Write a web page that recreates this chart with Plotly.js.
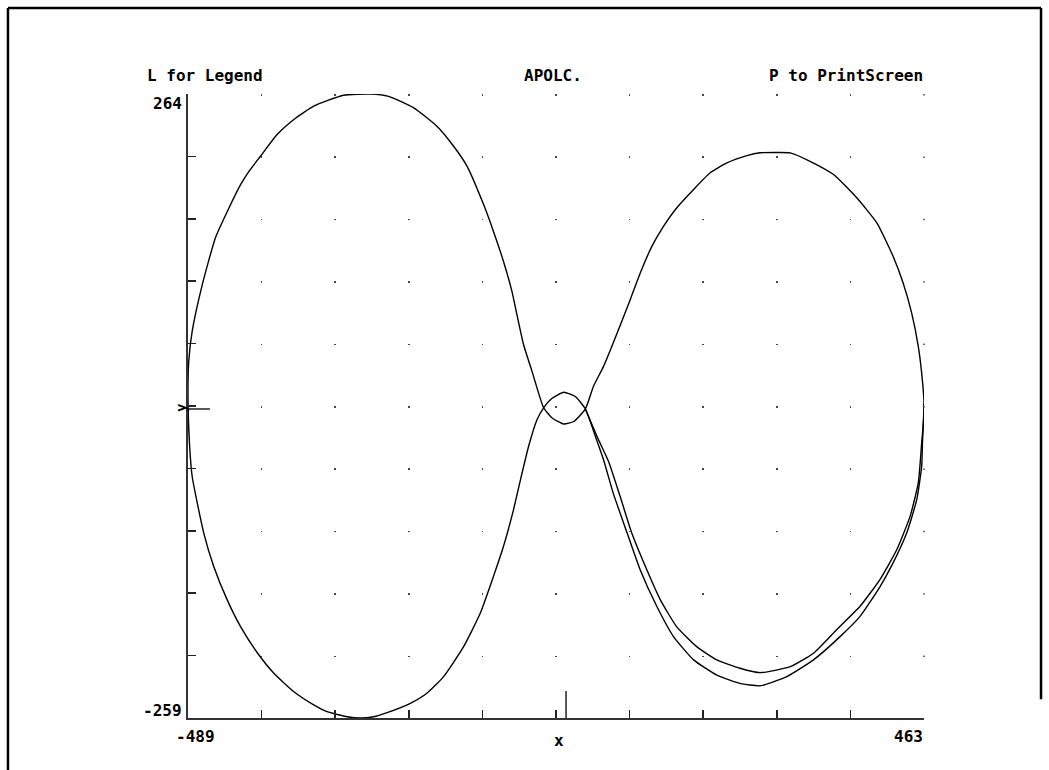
<!DOCTYPE html>
<html>
<head>
<meta charset="utf-8">
<script src="https://cdn.plot.ly/plotly-3.0.1.min.js"></script>
<style>html,body{margin:0;padding:0;background:#fff;}#chart{width:1049px;height:770px;}</style>
</head>
<body>
<div id="chart"></div>
<script>
// ---- data (x, y in plot units) ----
// first lap of the orbit (closed path through both loops)
const orbitX = [
  -29, -18, -3, 12, 25,
  38, 48.5, 61, 79, 96, 117.5, 139, 165, 195, 225, 251, 285.5, 320, 354.4, 380, 406, 423, 440.6, 453.6, 460, 461, 463,
  460, 455.6, 447, 436, 423, 402, 376, 346, 315.6, 290, 270, 251, 234, 208, 186.4, 165, 143, 126, 111, 96, 83, 72, 61, 48.5, 35.5, 25,
  10, -3, -18, -29,
  -44, -55, -63.5, -70, -81, -94, -106.6, -128, -145.4, -167, -197, -229.4, -253, -287.6, -326.4, -352, -373.7, -395.3, -410.4, -421, -436, -453.5, -470.6, -483.6, -488, -489,
  -487, -483.6, -468.6, -455.7, -438.3, -421, -397.5, -378, -352, -326.4, -309, -283, -266, -249, -231.5, -201.4, -180, -158.4, -132.5, -111, -94, -81, -68, -59, -48.5, -37.6, -29
];
const orbitY = [
  1, 9, 14, 10.5, 0,
  -23, -42.6, -70.5, -104, -135, -165.6, -190.8, -210.3, -223, -230, -232, -224.3, -210.3, -190.8, -174, -149, -129, -104, -76, -48, -28.6, 5,
  30, 52.5, 80.5, 105.6, 128, 156, 177, 196.5, 207.6, 214.7, 215, 214.7, 212.4, 206.3, 198, 184, 168.5, 153, 136.3, 114, 91.6, 73.4, 55.3, 35.7, 19, 0,
  -10.5, -12.6, -7.6, 1,
  31.5, 54, 79, 98.6, 123.8, 149, 171.3, 203.4, 220.2, 237, 252.4, 262, 264, 263, 253.8, 242.6, 230, 211.8, 199, 188, 168.5, 143.6, 104, 65, 40, 8,
  -30, -56.6, -104, -132, -160, -182.4, -206, -221.5, -237, -248, -253.7, -258, -259, -258, -254.5, -246.7, -238.3, -224.3, -199.2, -171.2, -140.5, -115.3, -84.5, -59.4, -31.4, -9, 1
];
// second lap: the lower right arc that drifts inside the first one
const driftX = [25, 42, 55, 70, 85, 104.6, 122, 143, 169, 195, 225, 251, 290, 320, 350, 380, 406, 427.7, 445, 455.6, 460, 462.5, 463];
const driftY = [0, -25.8, -44, -73.4, -104, -135, -160, -182.4, -199.2, -210.3, -217.3, -221, -216, -204.7, -185, -165.6, -143, -118, -90, -62, -28.6, -9, 5];

// axis extents and labels
const xRange = [-489, 463];
const yRange = [-259, 264];
const xDivisions = 10;
const yDivisions = 10;
const headerTexts = ["L for Legend", "APOLC.", "P to PrintScreen"];
const xLabels = ["-489", "x", "463"];
const yLabels = ["264", "y", "-259"];

// tick positions = equal divisions of the axes
const xTicks = [], yTicks = [];
for (let i = 0; i <= xDivisions; i++) xTicks.push(xRange[0] + (xRange[1] - xRange[0]) * i / xDivisions);
for (let i = 0; i <= yDivisions; i++) yTicks.push(yRange[0] + (yRange[1] - yRange[0]) * i / yDivisions);

const FONT = {family: "DejaVu Sans Mono, Liberation Mono, monospace", size: 16, color: "#000", weight: "bold"};
const plotH = 770 - 94 - 52;
const dotLen = 1.5;
const gap = (plotH / yDivisions) - dotLen;

const lineStyle = {color: "#000", width: 1.4, shape: "spline", smoothing: 0.5};
const data = [
  {x: orbitX, y: orbitY, mode: "lines", line: lineStyle, hoverinfo: "skip"},
  {x: driftX, y: driftY, mode: "lines", line: lineStyle, hoverinfo: "skip"}
];

function ann(text, x, y, xa, ya, extra) {
  return Object.assign({text: text, x: x, y: y, xref: "paper", yref: "paper", xanchor: xa, yanchor: ya,
    showarrow: false, font: FONT, borderpad: 0}, extra || {});
}

const layout = {
  width: 1049, height: 770,
  margin: {l: 188, r: 125, t: 94, b: 52, pad: 0},
  paper_bgcolor: "#fff", plot_bgcolor: "#fff",
  showlegend: false,
  xaxis: {
    range: xRange, showline: true, linecolor: "#333", linewidth: 2,
    tickmode: "array", tickvals: xTicks, ticks: "inside", ticklen: 8, tickwidth: 1.5, tickcolor: "#222",
    showticklabels: false, zeroline: false,
    showgrid: true, gridcolor: "#444", gridwidth: 1.5, griddash: dotLen + "px," + gap + "px"
  },
  yaxis: {
    range: yRange, showline: true, linecolor: "#333", linewidth: 2,
    tickmode: "array", tickvals: yTicks, ticks: "inside", ticklen: 8, tickwidth: 1.5, tickcolor: "#222",
    showticklabels: false, zeroline: false, showgrid: false
  },
  shapes: [
    // outer frame of the screen
    {type: "line", xref: "paper", yref: "paper", x0: -0.2446, x1: 1.159, y0: 1.1378, y1: 1.1378, line: {color: "#000", width: 2.5}},
    {type: "line", xref: "paper", yref: "paper", x0: -0.2446, x1: -0.2446, y0: 1.1378, y1: -0.1, line: {color: "#000", width: 2.5}},
    {type: "line", xref: "paper", yref: "paper", x0: 1.159, x1: 1.159, y0: 1.1378, y1: 0.03, line: {color: "#000", width: 2.5}},
    // zero markers
    {type: "line", xref: "x", x0: 0, x1: 0, yref: "paper", ysizemode: "pixel", yanchor: 0, y0: 0, y1: 27, line: {color: "#222", width: 1.5}},
    {type: "line", yref: "y", y0: 0, y1: 0, xref: "paper", xsizemode: "pixel", xanchor: 0, x0: 0, x1: 22, line: {color: "#222", width: 1.5}},
    // right column of grid dots
    {type: "line", xref: "paper", yref: "paper", x0: 1, x1: 1, y0: 1, y1: 0, line: {color: "#444", width: 1.5, dash: dotLen + "px," + gap + "px"}}
  ],
  annotations: [
    ann(headerTexts[0], -0.0571, 1.0304, "left", "middle"),
    ann(headerTexts[1], 0.4959, 1.0304, "center", "middle"),
    ann(headerTexts[2], 1.0, 1.0304, "right", "middle"),
    ann(yLabels[0], -0.0068, 0.9848, "right", "middle"),
    ann(yLabels[1], -0.0095, 0.4968, "center", "middle", {textangle: -90, font: Object.assign({}, FONT, {size: 14})}),
    ann(yLabels[2], -0.0068, 0.0128, "right", "middle"),
    ann(xLabels[0], -0.0177, -0.0304, "left", "middle"),
    ann(xLabels[1], 0.504, -0.0353, "center", "middle"),
    ann(xLabels[2], 1.0, -0.0304, "right", "middle")
  ]
};

Plotly.newPlot("chart", data, layout, {displayModeBar: false, staticPlot: true});
</script>
</body>
</html>
